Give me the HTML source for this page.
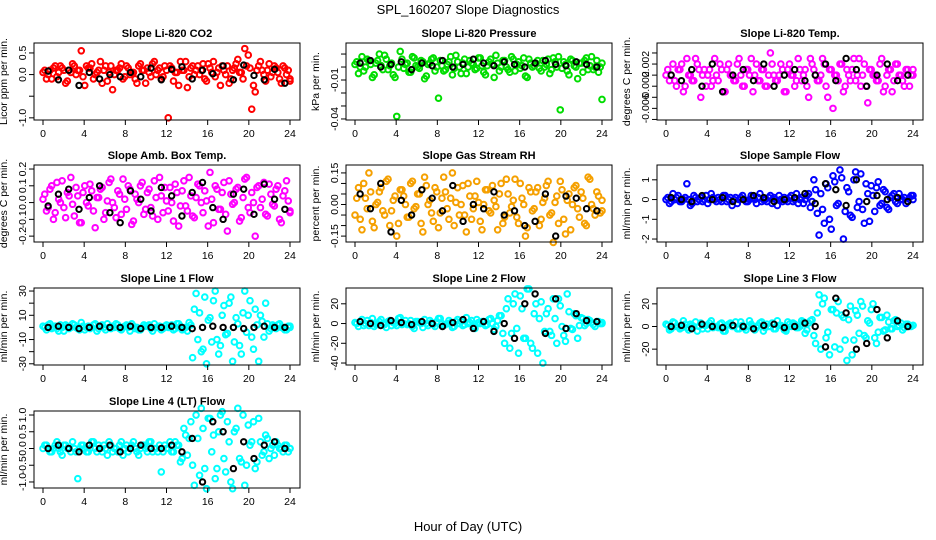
<!DOCTYPE html>
<html><head><meta charset="utf-8"><style>
body{margin:0;background:#fff;font-family:"Liberation Sans",sans-serif}
svg{display:block}
</style></head><body>
<svg id="chart" width="936" height="540" xmlns="http://www.w3.org/2000/svg">
<text x="468" y="14" text-anchor="middle" font-size="13">SPL_160207  Slope Diagnostics</text>
<text x="468" y="531" text-anchor="middle" font-size="13">Hour of Day (UTC)</text>
</svg>
<script>
const xTicks=[0,4,8,12,16,20,24];
const co2=[0.05,-0.1,0.1,0.15,-0.05,0.2,0.1,-0.15,0.05,0.2,0.1,0.55,-0.25,0.15,0.25,0,0.1,-0.2,0.2,0.05,-0.35,0.1,0.15,-0.1,0.2,0,0.05,-0.2,0.25,0.1,0.15,-0.05,0.3,0.1,-0.1,0.2,-1.0,0.15,0.05,-0.25,0.1,0.3,-0.05,0.2,0.1,0,0.25,-0.15,0.15,0.3,0.05,-0.25,0.1,0.2,-0.1,0.15,0.35,0.05,0.6,0.45,-0.8,-0.4,0.2,0.1,-0.15,0.25,0.05,0.15,-0.1,0.2,0,-0.15];
const co2b=[0.1,0,-0.1,0.2,0.05,0.15,-0.2,0.1,0.25,0,0.1,-0.05,0.2,0.15,-0.1,0.05,0.3,0.1,-0.15,0.2,0,0.1,0.25,-0.05,0.15,0.05,-0.1,0.2,0.1,-0.2,0.05,0.25,0,0.15,-0.05,0.1,0.2,-0.15,0.05,0.3,0.1,-0.3,0.15,0,0.2,0.1,-0.1,0.25,0.05,-0.05,0.15,0.2,0,-0.2,0.1,0.25,0.05,-0.1,0.2,0.15,-0.25,0.1,0.3,0,0.1,-0.05,0.2,0.05,-0.2,0.15,0.1,-0.1];
const co2Blk=[0.08,-0.12,0.1,-0.25,0.05,-0.1,0,-0.05,0.05,-0.05,0.15,-0.12,0.12,0.18,-0.1,0.1,0.02,0.2,-0.12,0.22,-0.02,-0.12,0.12,-0.2];
const pres=[2,-5,8,0,5,-8,3,10,-2,6,1,-6,-38,12,-1,3,-4,7,0,5,-9,2,6,-3,-24,1,-2,4,-6,9,0,3,-5,5,2,-1,7,-4,1,6,-8,3,0,5,-2,8,-3,4,1,-7,6,0,3,-1,5,2,-5,7,0,-33,4,-3,6,1,-9,3,5,-2,8,0,-4,-25];
const presb=[4,0,-3,6,2,-6,5,1,9,-2,3,-8,0,6,2,-4,8,1,-1,4,-7,3,7,0,5,-3,2,8,-1,4,-5,6,0,3,-2,7,1,-6,4,2,9,-3,5,0,-4,6,2,-1,7,-8,3,1,5,-3,0,6,-2,4,8,-1,2,-6,5,0,3,-4,7,1,-2,5,0,3];
const presBlk=[3,5,0,2,4,-2,3,1,5,0,2,6,3,1,4,2,0,3,5,2,1,4,2,0];
const temp=[0,-1,2,-2,1,-3,3,0,-1,2,-4,1,0,-2,3,-1,1,-3,2,0,-1,3,-2,1,0,-3,2,-1,1,-2,4,0,-1,2,-3,1,0,-2,3,-1,1,-4,2,0,-1,3,-2,1,-6,0,2,-3,1,-1,3,0,-2,2,-5,1,0,-1,3,-2,1,-3,2,0,-1,1,-2,0];
const tempb=[1,0,-1,1,2,-2,0,-1,3,1,0,-2,1,-1,0,2,-3,1,0,-1,2,0,-2,1,3,0,-1,1,-2,0,2,-1,0,1,-3,2,0,-1,1,0,-2,3,1,-1,0,2,-4,1,0,-1,2,-2,0,1,-1,3,0,-2,1,0,-1,2,-3,0,1,-1,2,0,-2,1,0,1];
const tempBlk=[0,-1,1,-2,2,-3,0,1,-1,2,-2,0,1,-1,0,2,-1,3,1,-2,0,2,-1,0];
const amb=[2,-5,8,-10,12,0,-3,6,15,-8,4,-12,10,-2,7,-15,3,9,-6,12,0,-9,5,14,-4,8,-11,2,10,-7,6,-3,13,-10,4,9,-5,0,11,-14,7,-2,15,-8,3,10,-6,1,18,-12,8,-4,12,-17,5,0,9,-9,14,-3,6,-20,10,2,-7,11,-1,8,-10,4,13,-6];
const ambb=[5,-3,10,-6,2,13,-9,4,-1,9,-12,6,0,11,-5,3,8,-10,1,14,-3,7,-7,2,10,-13,5,0,12,-4,8,-8,3,15,-6,1,9,-11,6,-2,13,-5,4,-9,11,0,7,-14,2,10,-4,6,-7,13,-1,8,-11,3,15,-6,0,9,-3,12,-8,5,-2,10,-12,7,1,-5];
const ambBlk=[-2,5,8,-4,3,10,-6,-12,7,2,-5,9,4,-8,6,12,-3,-10,5,8,-7,11,2,-4];
const rh=[-5,8,-12,3,15,-8,0,6,-3,11,-10,2,-15,7,4,-6,10,-2,5,-9,13,0,-4,8,-11,3,6,-7,15,1,-5,9,-13,4,-2,11,-8,0,7,-4,2,-12,10,-6,5,-1,12,-9,3,-15,8,-3,6,-10,1,9,-5,-18,4,11,-7,2,-12,8,-2,6,-9,13,0,-5,4,-3];
const rhb=[3,-7,10,-2,6,-11,1,8,-5,12,-3,4,-9,7,0,-6,11,-1,5,-13,9,2,-8,6,-4,13,-2,3,-10,8,0,-5,10,-7,4,1,-12,7,-3,9,-1,5,-9,12,-4,2,-6,10,0,-11,6,-2,8,-7,3,11,-4,1,-9,7,-14,5,0,9,-6,3,-10,12,-2,6,-4,2];
const rhBlk=[5,-2,10,-13,2,-5,7,3,-3,9,-8,0,-2,6,-5,-3,-10,-8,5,-15,4,3,-2,-3];
const samp=[0,-2,3,1,-1,0,8,-3,2,-1,1,0,-2,3,0,1,-1,2,0,-3,1,0,2,-1,0,1,-2,3,0,-1,2,1,-3,0,1,-1,2,0,-2,1,0,3,-1,5,-18,-5,8,-10,12,-3,15,-20,6,-8,10,-4,13,-12,3,7,-6,9,-2,4,-5,2,-1,3,0,-2,1,2];
const sampb=[1,-1,0,2,-1,1,0,-2,1,0,-1,2,0,1,-1,0,2,-1,1,0,-2,1,0,-1,2,0,1,-1,0,1,-2,0,2,-1,0,1,-1,3,0,-2,2,-4,10,-7,3,-12,6,-15,9,-2,11,-6,4,-9,14,-1,-5,8,-11,2,6,-3,5,-4,1,3,-2,0,1,-1,2,0];
const sampBlk=[1,0,-1,2,0,1,-1,0,2,1,-1,0,1,3,-2,8,5,-3,10,-1,2,0,1,-1];
const line1=[1,-2,3,0,-1,2,-3,1,0,2,-1,4,-2,1,0,3,-1,2,-2,0,1,3,-1,0,2,-3,1,0,-2,2,1,-1,3,0,-2,1,0,2,-1,3,-2,0,4,-25,28,12,-18,-30,8,22,-10,-15,18,-5,25,-12,3,-22,30,10,-8,15,-28,5,20,-3,2,-1,3,0,-2,1];
const line1b=[0,2,-1,1,-3,0,2,-1,3,0,-2,1,0,-1,2,-3,1,0,3,-1,0,2,-2,1,0,3,-1,-2,0,1,2,-3,0,1,-1,2,0,-2,3,1,-1,-3,2,15,-10,-20,25,6,-12,30,-22,10,-6,20,-28,8,-15,12,-4,22,-18,2,10,-8,3,-1,1,2,0,-2,1,0];
const line1Blk=[0,1,0,-1,0,1,0,0,1,-1,0,0,1,0,-1,0,1,0,0,-1,0,1,0,0];
const line2=[1,-3,4,0,-2,5,-1,2,0,-4,3,1,-2,6,0,-1,3,-5,2,0,4,-2,1,-3,5,0,-1,3,-4,2,0,-2,6,1,-3,4,0,2,-1,5,-6,3,8,-20,25,-10,30,-30,15,-15,35,-25,20,5,-40,10,-8,25,-20,18,-12,30,-5,10,-15,6,-2,4,1,-3,2,0];
const line2b=[0,2,-2,3,1,-3,0,4,-1,2,-2,0,5,-1,3,0,-3,2,1,-4,0,3,-1,2,5,-2,0,1,-3,4,2,-1,0,3,-5,1,2,-2,4,0,-3,8,-10,15,-25,20,-5,28,-15,35,-20,10,-30,22,-8,15,-12,5,25,-3,-18,12,-6,8,-2,5,0,3,-1,2,0,1];
const line2Blk=[2,0,-2,3,1,-1,2,0,-3,1,4,-5,2,-8,0,-15,20,30,-10,25,-5,10,3,2];
const line3=[2,-3,4,0,-2,5,-1,2,0,-4,3,1,-2,5,0,-1,3,-4,2,0,4,-2,1,-3,5,0,-1,3,-4,2,0,-2,5,1,-3,4,0,2,-1,5,-6,3,6,-15,28,20,-10,-25,15,12,-20,8,-30,18,-12,10,22,-8,5,15,-10,-5,8,-3,4,-2,6,1,-3,2,0,1];
const line3b=[1,-2,3,0,-1,2,-3,1,4,0,-2,1,3,-1,0,2,-4,1,3,0,-2,4,-1,0,2,-3,1,4,-1,0,3,-2,1,0,-4,2,3,-1,0,4,-3,5,-8,12,-20,25,-5,15,-18,22,10,-12,6,-25,14,-6,18,-10,3,20,-15,8,-4,10,-2,5,0,3,-1,2,0,1];
const line3Blk=[0,1,-2,2,0,-1,1,0,-2,1,2,-1,0,3,0,-18,25,12,-20,-15,15,-10,5,0];
const line4=[0,1,-1,0,2,-1,1,0,-1,0,-9,1,0,-1,2,0,1,-1,0,2,-1,0,1,-2,1,0,2,-1,0,1,-1,2,0,-1,-7,1,0,-1,2,1,-3,4,3,-5,10,-8,6,-12,9,4,-6,10,-3,8,-10,5,12,-4,-11,7,2,-6,9,-2,4,-3,1,2,0,-1,1,0];
const line4b=[1,0,-1,1,0,-2,1,0,2,-1,0,1,-1,0,2,-1,0,1,-2,1,0,-1,2,0,-1,1,0,-2,1,0,2,-1,0,1,-1,0,2,-1,1,-4,6,-2,8,-11,3,12,-6,9,-1,-9,5,11,-7,2,-12,6,-3,10,-5,1,8,-4,2,-1,3,0,-2,1,0,1,-1,0];
const line4Blk=[0,1,0,-1,1,0,1,-1,0,1,0,0,1,-1,3,-10,8,5,-6,2,-3,1,2,0];
const co2Ticks=[-1.0,-0.5,0.0,0.5], co2Lbl=["-1.0","","0.0","0.5"];
const presTicks=[-0.04,-0.03,-0.02,-0.01,0,0.01], presLbl=["-0.04","","","-0.01","",""];
const tempTicks=[-0.008,-0.006,-0.004,-0.002,0,0.002,0.004], tempLbl=["","-0.006","","-0.002","","0.002",""];
const ambTicks=[-0.2,-0.1,0,0.1,0.2], ambLbl=["-0.2","-0.1","0.0","0.1","0.2"];
const rhTicks=[-0.15,-0.1,-0.05,0,0.05,0.1,0.15], rhLbl=["-0.15","","","0.00","","","0.15"];
const sampTicks=[-2,-1,0,1], sampLbl=["-2","-1","0","1"];
const l1Ticks=[-30,-20,-10,0,10,20,30], l1Lbl=["-30","","-10","","10","","30"];
const l2Ticks=[-40,-20,0,20], l2Lbl=["-40","-20","0","20"];
const l3Ticks=[-20,0,20], l3Lbl=["-20","0","20"];
const l4Ticks=[-1,-0.5,0,0.5,1], l4Lbl=["-1.0","-0.5","0.0","0.5","1.0"];

const panels=[
 {name:"co2",title:"Slope Li-820 CO2",ylab:"Licor ppm per min.",col:0,row:0,min:-1.05,max:0.73,sc:1,d:co2,d2:co2b,b:co2Blk,c:"#ff0000",t:co2Ticks,l:co2Lbl},
 {name:"pressure",title:"Slope Li-820 Pressure",ylab:"kPa per min.",col:1,row:0,min:-0.0408,max:0.0185,sc:0.001,d:pres,d2:presb,b:presBlk,c:"#00dd00",t:presTicks,l:presLbl},
 {name:"temp",title:"Slope Li-820 Temp.",ylab:"degrees C per min.",col:2,row:0,min:-0.0081,max:0.0058,sc:0.001,d:temp,d2:tempb,b:tempBlk,c:"#ff00ff",t:tempTicks,l:tempLbl},
 {name:"amb-box-temp",title:"Slope Amb. Box Temp.",ylab:"degrees C per min.",col:0,row:1,min:-0.235,max:0.224,sc:0.01,d:amb,d2:ambb,b:ambBlk,c:"#ff00ff",t:ambTicks,l:ambLbl},
 {name:"gas-stream-rh",title:"Slope Gas Stream RH",ylab:"percent per min.",col:1,row:1,min:-0.178,max:0.1876,sc:0.01,d:rh,d2:rhb,b:rhBlk,c:"#f5a000",t:rhTicks,l:rhLbl},
 {name:"sample-flow",title:"Slope Sample Flow",ylab:"ml/min per min.",col:2,row:1,min:-2.15,max:1.75,sc:0.1,d:samp,d2:sampb,b:sampBlk,c:"#0000ff",t:sampTicks,l:sampLbl},
 {name:"line1-flow",title:"Slope Line 1 Flow",ylab:"ml/min per min.",col:0,row:2,min:-31,max:32.5,sc:1,d:line1,d2:line1b,b:line1Blk,c:"#00ffff",t:l1Ticks,l:l1Lbl},
 {name:"line2-flow",title:"Slope Line 2 Flow",ylab:"ml/min per min.",col:1,row:2,min:-42,max:36,sc:1,d:line2,d2:line2b,b:line2Blk,c:"#00ffff",t:l2Ticks,l:l2Lbl},
 {name:"line3-flow",title:"Slope Line 3 Flow",ylab:"ml/min per min.",col:2,row:2,min:-34,max:34,sc:1,d:line3,d2:line3b,b:line3Blk,c:"#00ffff",t:l3Ticks,l:l3Lbl},
 {name:"line4-flow",title:"Slope Line 4 (LT) Flow",ylab:"ml/min per min.",col:0,row:3,min:-1.18,max:1.12,sc:0.1,d:line4,d2:line4b,b:line4Blk,c:"#00ffff",t:l4Ticks,l:l4Lbl}
];
const colX0=[43,355,666], pxHr=247/24, rowTop=[43,165,288,411], boxH=77;
const svg=document.getElementById('chart'), NS="http://www.w3.org/2000/svg";
function mk(tag,attrs,parent){const e=document.createElementNS(NS,tag);for(const k in attrs)e.setAttribute(k,attrs[k]);parent.appendChild(e);return e;}
panels.forEach(p=>{
 const g=mk('g',{},svg);
 
 
 const x0=colX0[p.col], top=rowTop[p.row], bot=top+boxH;
 const xs=h=>x0+h*pxHr, ys=v=>bot-(v-p.min)/(p.max-p.min)*boxH;
 const left=x0-9, right=x0+24*pxHr+10;
 const t=mk('text',{x:(left+right)/2,y:top-6,'text-anchor':'middle','font-size':11,'font-weight':'bold'},g);t.textContent=p.title;
 
 
 const yl=mk('text',{x:0,y:0,'text-anchor':'middle','font-size':10.5,transform:`translate(${left-27},${(top+bot)/2}) rotate(-90)`},g);yl.textContent=p.ylab;
 
 
 [p.d,p.d2].forEach((arr,k)=>{
  arr.forEach((v,i)=>{
   const h=i*24/(arr.length-1)+(k?0.17:0);
   const c=mk('circle',{cx:xs(Math.min(h,24)),cy:ys(v*p.sc),r:2.8,fill:'none',stroke:p.c,'stroke-width':2},g);
   
   
  });
 });
 p.b.forEach((v,i)=>{
  const c=mk('circle',{cx:xs(i+0.5),cy:ys(v*p.sc),r:2.7,fill:'none',stroke:'#000','stroke-width':2},g);
  
  
 });
 const box=mk('rect',{x:left,y:top,width:right-left,height:boxH,fill:'none',stroke:'#000','stroke-width':1},g);
 
 
 xTicks.forEach(h=>{
  mk('line',{x1:xs(h),x2:xs(h),y1:bot,y2:bot+5,stroke:'#000'},g);
  const tx=mk('text',{x:xs(h),y:bot+17,'text-anchor':'middle','font-size':10.5},g);tx.textContent=h;
  
  
 });
 p.t.forEach((v,i)=>{
  const y=ys(v);
  mk('line',{x1:left-5,x2:left,y1:y,y2:y,stroke:'#000'},g);
  if(p.l[i]){const ty=mk('text',{x:0,y:0,'text-anchor':'middle','font-size':10.5,transform:`translate(${left-8},${y}) rotate(-90)`},g);ty.textContent=p.l[i];
  
  }
 });
});
</script>
</body></html>
